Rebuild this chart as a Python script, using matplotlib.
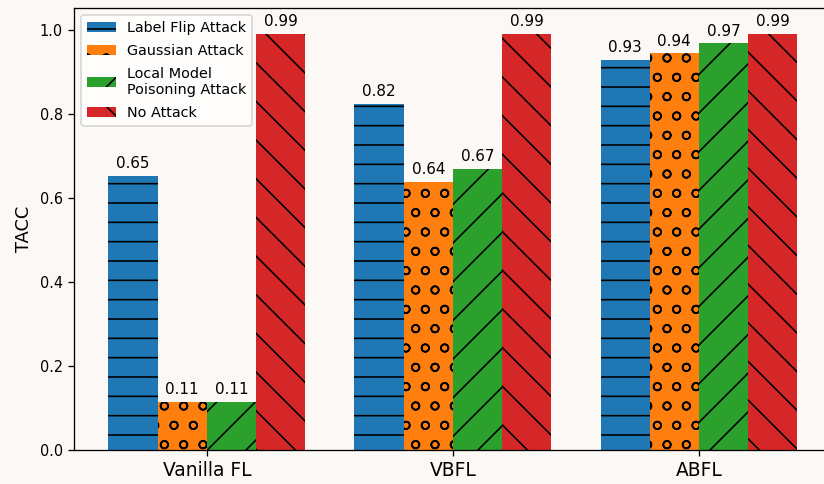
import numpy as np
import matplotlib
matplotlib.use('Agg')
import matplotlib.pyplot as plt

# values
methods = ['Vanilla FL', 'VBFL', 'ABFL']
attacks = ['Label Flip Attack', 'Gaussian Attack', 'Local Model\nPoisoning Attack', 'No Attack']
label_flip = [0.652, 0.824, 0.929]
gaussian = [0.114, 0.638, 0.944]
local_poison = [0.114, 0.669, 0.968]
no_attack = [0.99, 0.99, 0.99]

colors = ['#1f77b4', '#ff7f0e', '#2ca02c', '#d62728']
hatches = ['-', 'o', '/', '\\']
bg = '#fbf8f5'

# hatch spacing in the original matches ~116 dpi, text is a bit smaller
dpi = 116
fig = plt.figure(figsize=(824 / dpi, 484 / dpi), dpi=dpi, facecolor=bg)
# the original picture is cropped on the right, so the axes run past the edge
ax = fig.add_axes([0.0898, 0.0702, 0.9197, 0.913], facecolor=bg)

x = np.arange(len(methods))
w = 0.2
series = [label_flip, gaussian, local_poison, no_attack]
for i, vals in enumerate(series):
    bars = ax.bar(x + (i - 1.5) * w, vals, w, color=colors[i], hatch=hatches[i],
                  label=attacks[i])
    ax.bar_label(bars, labels=['%.2f' % v for v in vals], padding=3, fontsize=9.4)

ax.set_ylim(0, 1.052)
ax.set_xticks(x)
ax.set_xticklabels(methods, fontsize=11.6)
ax.tick_params(axis='y', labelsize=9)
ax.set_ylabel('TACC', fontsize=11)
ax.legend(loc='upper left', fontsize=8.9, labelspacing=0.62)

fig.savefig('out.png', dpi=dpi, facecolor=bg)
